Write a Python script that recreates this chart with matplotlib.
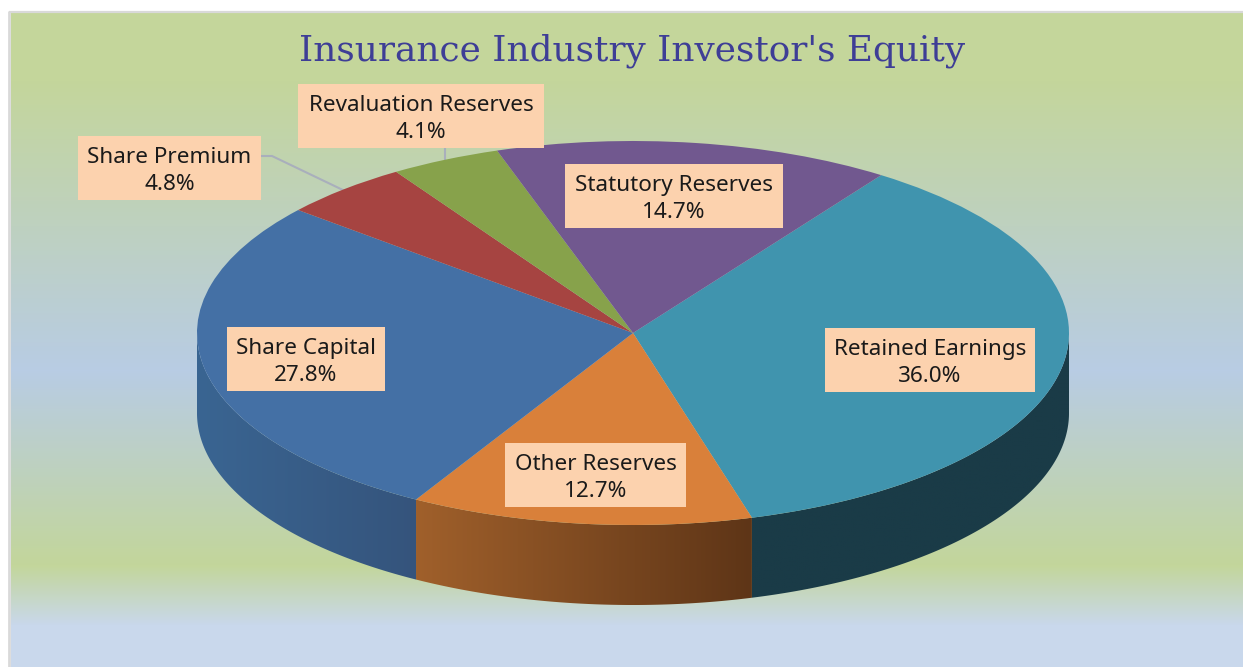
import numpy as np
import matplotlib
matplotlib.use("Agg")
import matplotlib.pyplot as plt
from matplotlib.colors import to_rgb
from matplotlib.patches import Polygon, Rectangle

# data
labels = ["Retained Earnings", "Other Reserves", "Share Capital",
          "Share Premium", "Revaluation Reserves", "Statutory Reserves"]
shares = [36.0, 12.7, 27.8, 4.8, 4.1, 14.7]
title = "Insurance Industry Investor's Equity"

# styling
top_colors = ["#4094AE", "#D9803A", "#4470A5", "#A64441", "#87A24B", "#71588F"]
wall_left = ["#1A3B47", "#A0602B", "#3A6592", "#6E2C2A", "#5A6C32", "#4B3A5F"]
wall_right = ["#1A3B47", "#5E3517", "#35547C", "#6E2C2A", "#5A6C32", "#4B3A5F"]
box_xywh = [(825, 328, 210, 64), (505, 443, 181, 64), (227, 327, 158, 64),
            (78, 136, 183, 64), (298, 84, 246, 64), (565, 164, 218, 64)]
bg_y = [13, 80, 370, 565, 625, 667]
bg_colors = ["#C4D69B", "#C4D69B", "#B8CCE4", "#C3D69B", "#C9D8EC", "#C9D8EC"]

W, H = 1243, 667
CX_L, CX_R, CY_T, CY_B = 197, 1069, 141, 525   # top ellipse in pixels
DEPTH = 80
START = 55.3

fig = plt.figure(figsize=(W / 100, H / 100), dpi=100, facecolor="white")

# background gradient and frame
bg = fig.add_axes([0, 0, 1, 1], zorder=0)
rows = np.arange(H - 13)
rgb = np.array([to_rgb(c) for c in bg_colors])
grad = np.stack([np.interp(rows + 13, bg_y, rgb[:, i]) for i in range(3)], axis=1)[:, None, :]
bg.imshow(grad, extent=(11, W, H, 13), aspect="auto", interpolation="nearest")
bg.set_xlim(0, W)
bg.set_ylim(H, 0)
bg.axis("off")
bg.plot([9.5, 9.5], [11, H], color="#D9D9D9", lw=2, solid_capstyle="butt")
bg.plot([9, W], [12, 12], color="#D9D9D9", lw=1.6, solid_capstyle="butt")

# leader lines
bg.plot([262, 272, 345], [156, 156, 191], color="#A9AFBC", lw=1.5)
bg.plot([445, 445], [148, 161], color="#A9AFBC", lw=1.5)

# pie top, squashed to an ellipse
ax = fig.add_axes([CX_L / W, (H - CY_B) / H, (CX_R - CX_L) / W, (CY_B - CY_T) / H], zorder=1)
ax.pie(shares, colors=top_colors, startangle=START, counterclock=False, radius=1,
       wedgeprops={"linewidth": 0, "clip_on": False})
ax.patch.set_alpha(0)

# side wall, only where the slice faces the viewer
depth = DEPTH / ((CY_B - CY_T) / 2)
edges = START - np.cumsum([0] + shares) / sum(shares) * 360
for i in range(len(shares)):
    a0 = max(edges[i + 1], -180)
    a1 = min(edges[i], 0)
    if a0 >= a1:
        continue
    t = np.radians(np.linspace(a0, a1, 200))  # left to right along the front
    x, y = np.cos(t), np.sin(t)
    outline = np.vstack([np.column_stack([x, y]),
                         np.column_stack([x[::-1], y[::-1] - depth])])
    c0, c1 = np.array(to_rgb(wall_left[i])), np.array(to_rgb(wall_right[i]))
    ramp = np.linspace(0, 1, 256)[None, :, None]
    strip = c0[None, None, :] + (c1 - c0)[None, None, :] * ramp
    im = ax.imshow(strip, extent=(x[0], x[-1], y.min() - depth, y.max()), aspect="auto",
                   zorder=0.5, interpolation="bilinear")
    im.set_clip_box(fig.bbox)
    im.set_clip_path(Polygon(outline, closed=True, transform=ax.transData))

ax.set_aspect("auto")
ax.set_xlim(-1, 1)
ax.set_ylim(-1, 1)

# labels on top
over = fig.add_axes([0, 0, 1, 1], zorder=2)
over.set_xlim(0, W)
over.set_ylim(H, 0)
over.axis("off")
for name, val, (bx, by, bw, bh) in zip(labels, shares, box_xywh):
    over.add_patch(Rectangle((bx, by), bw, bh, facecolor="#FCD2AE", lw=0))
    over.text(bx + bw / 2, by + bh / 2 + 3, f"{name}\n{val:.1f}%", ha="center", va="center",
              family="Noto Sans", fontsize=16.2, color="#1A1A1A", linespacing=1.41)

over.text(632, 51, title, ha="center", va="center", family="DejaVu Serif",
          fontsize=25.8, color="#3E3E96")

fig.savefig("out.png", dpi=100)
